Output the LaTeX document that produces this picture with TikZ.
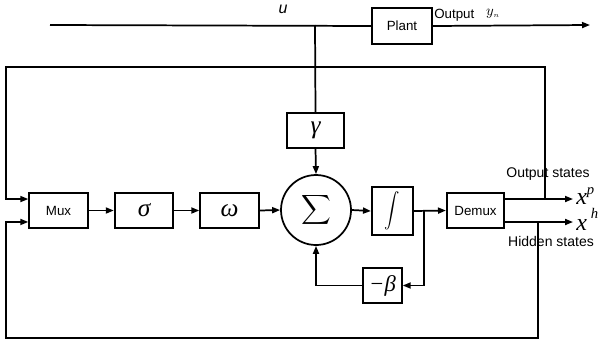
\documentclass[tikz,border=0pt]{standalone}
\usepackage{fontspec}
\usepackage{graphicx}
\setmainfont{Liberation Sans}
\newfontfamily\symfont{Liberation Serif}
\usetikzlibrary{arrows.meta,calc}
\tikzset{
  blk/.style={rectangle,draw,line width=1.3pt,inner sep=0pt,
              minimum width=#1,minimum height=26pt},
  blk/.default=44pt,
  lbl/.style={font=\fontsize{10}{12}\selectfont,inner sep=0pt},
  grk/.style={font=\fontsize{19}{21}\selectfont\symfont\itshape},
  arr/.style={-{Triangle[length=6pt,width=4.5pt]},line width=1.3pt},
  ln/.style={line width=1.3pt},
}
\begin{document}
\begin{tikzpicture}[x=0.75pt,y=-0.75pt]
  \useasboundingbox (0,0) rectangle (605,347);

  % blocks
  \node[blk=45pt,minimum height=27pt,lbl] (plant) at (402,26) {Plant};
  \node[blk=43pt,grk] (gam) at (315.5,130.5) {γ};
  \node[blk,lbl] (mux) at (58.5,210.5) {Mux};
  \node[blk,grk] (sig) at (144,210.5) {σ};
  \node[blk,grk] (omg) at (229.5,210.5) {ω};
  \node[circle,draw,line width=1.3pt,minimum size=52.5pt,inner sep=0pt] (sum) at (316,210)
    {\scalebox{1.55}{$\displaystyle\sum$}};
  \node[blk=31pt,minimum height=36pt] (intg) at (392.5,211)
    {\scalebox{1.15}[1.3]{$\displaystyle\int$}};
  \node[blk=43pt,lbl] (demux) at (475.5,210.5) {Demux};
  \node[blk=29pt,font=\fontsize{17}{19}\selectfont\symfont\itshape] (nbeta) at (382.5,285.5) {−β};

  % end points and corners
  \coordinate (uin) at (50,25);
  \coordinate (yout) at (590,25);
  \coordinate (jU) at (315,25);
  \coordinate (lt) at (6,67);
  \coordinate (lb) at (6,338);
  \coordinate (tapP) at (545,199);
  \coordinate (tapH) at (538,222);
  \coordinate (xp) at (573,199);
  \coordinate (xh) at (573,222);
  \coordinate (tapI) at (424,211);

  % plant line
  \draw[ln] (uin) -- (plant.west);
  \draw[arr] (plant.east) -- (yout);
  \draw[ln] (jU) -- (gam.north);

  % forward path
  \draw[arr] (gam.south) -- (sum.north);
  \draw[arr] (mux.east) -- (sig.west);
  \draw[arr] (sig.east) -- (omg.west);
  \draw[arr] (omg.east) -- (sum.west);
  \draw[arr] (sum.east) -- (intg.west);
  \draw[arr] (intg.east) -- (demux.west);
  \draw[arr] ([yshift=8.6pt]demux.east) -- (xp);
  \draw[arr] ([yshift=-8.6pt]demux.east) -- (xh);

  % -beta loop
  \draw[arr] (tapI) |- (nbeta.east);
  \draw[arr] (nbeta.west) -| (sum.south);

  % feedback to mux
  \draw[arr] (tapP) |- (lt) |- ([yshift=8.6pt]mux.west);
  \draw[arr] (tapH) |- (lb) |- ([yshift=-8.6pt]mux.west);

  % labels
  \node[font=\fontsize{12}{14}\selectfont\itshape] (ulbl) at (283,9) {u};
  \node[lbl,anchor=west] (outlbl) at (434,15) {Output};
  \node[font=\fontsize{11}{13}\selectfont] (ylbl) at (493,14) {$y_{\scriptscriptstyle n}$};
  \node[lbl,font=\fontsize{10.5}{12}\selectfont] (pslbl) at (548,174) {Output states};
  \node[lbl,font=\fontsize{10.5}{12}\selectfont] (hslbl) at (551,241) {Hidden states};
  \node[font=\fontsize{18}{20}\selectfont\symfont\itshape,anchor=west,inner sep=0pt] (xplbl) at (576,196) {x\raisebox{7pt}{\fontsize{11}{12}\selectfont p}};
  \node[font=\fontsize{18}{20}\selectfont\symfont\itshape,anchor=west,inner sep=0pt] (xhlbl) at (576,219) {x\,\raisebox{9pt}{\fontsize{11}{12}\selectfont h}};
\end{tikzpicture}
\end{document}
